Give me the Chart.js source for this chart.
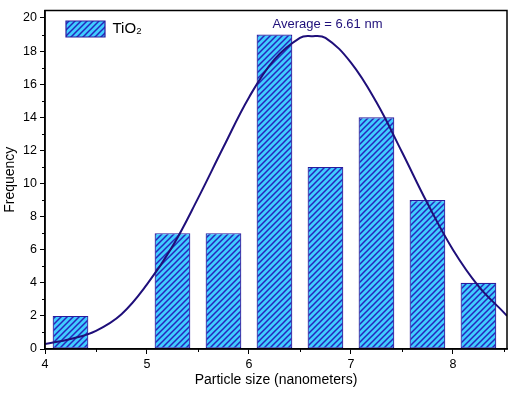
<!DOCTYPE html>
<html>
<head>
<meta charset="utf-8">
<script src="https://cdn.jsdelivr.net/npm/chart.js@4.4.1/dist/chart.umd.min.js"></script>
<style>
  html, body { margin: 0; padding: 0; background: #fff; }
</style>
</head>
<body>
<canvas id="myChart" width="510" height="393"></canvas>
<script>
/* histogram data */
const sizes = [4.25, 5.25, 5.75, 6.25, 6.75, 7.25, 7.75, 8.25];
const counts = [2, 7, 7, 19, 11, 14, 9, 4];

// fitted curve, points
const fitX = [4.0, 4.25, 4.5, 4.75, 5.0, 5.25, 5.5, 5.75, 6.0, 6.25, 6.5, 6.61, 6.75, 7.0, 7.25, 7.5, 7.75, 8.0, 8.25, 8.5, 8.53];
const fitY = [0.3, 0.6, 1.1, 2.1, 3.9, 6.2, 9.1, 12.2, 15.2, 17.5, 18.8, 18.9, 18.8, 17.3, 14.9, 11.9, 8.8, 6.0, 3.8, 2.2, 2.0];

const xLabels = [4, 5, 6, 7, 8];
const yLabels = [0, 2, 4, 6, 8, 10, 12, 14, 16, 18, 20];
const seriesName = "TiO\u2082";
const avgText = "Average = 6.61 nm";

const navy = "#1f0f7a";
const edge = "#2a1c9c";

const canvas = document.querySelector("#myChart");
const ctx = canvas.getContext("2d");

// cyan fill with dark "/" stripes
const makeHatch = () => {
  const c = document.createElement("canvas");
  c.width = 6;
  c.height = 6;
  const g = c.getContext("2d");
  g.fillStyle = "#40ccff";
  g.fillRect(0, 0, 6, 6);
  g.strokeStyle = "#2626bc";
  g.lineWidth = 1.5;
  g.beginPath();
  g.moveTo(-1, 7); g.lineTo(7, -1);
  g.moveTo(-1, 1); g.lineTo(1, -1);
  g.moveTo(5, 7); g.lineTo(7, 5);
  g.stroke();
  return ctx.createPattern(c, "repeat");
};

const isMajorX = (v) => xLabels.includes(v);
const isMajorY = (v) => yLabels.includes(v);

// short minor ticks + box frame + average label
const extras = {
  id: "extras",
  afterDraw(chart) {
    const { ctx, chartArea: a, scales } = chart;
    ctx.save();
    ctx.strokeStyle = "#000";
    ctx.lineWidth = 1;
    ctx.beginPath();
    scales.x.ticks.forEach((t) => {
      if (isMajorX(t.value)) return;
      const px = Math.round(scales.x.getPixelForValue(t.value)) + 0.5;
      ctx.moveTo(px, a.bottom);
      ctx.lineTo(px, a.bottom + 3);
    });
    scales.y.ticks.forEach((t) => {
      if (isMajorY(t.value)) return;
      const py = Math.round(scales.y.getPixelForValue(t.value)) + 0.5;
      ctx.moveTo(a.left, py);
      ctx.lineTo(a.left - 3, py);
    });
    ctx.stroke();

    ctx.lineWidth = 1.5;
    ctx.strokeRect(a.left, a.top, a.right - a.left, a.bottom - a.top);

    ctx.fillStyle = navy;
    ctx.font = "13px 'Liberation Sans', Arial, sans-serif";
    ctx.textAlign = "center";
    ctx.textBaseline = "middle";
    ctx.fillText(avgText, scales.x.getPixelForValue(6.77), scales.y.getPixelForValue(19.62));
    ctx.restore();
  },
};

Chart.defaults.font.family = "'Liberation Sans', Arial, sans-serif";
Chart.defaults.color = "#000";

const chart = new Chart(canvas, {
  data: {
    datasets: [
      {
        type: "line",
        label: "fit",
        data: fitX.map((x, i) => ({ x: x, y: fitY[i] })),
        borderColor: navy,
        borderWidth: 2,
        pointRadius: 0,
        tension: 0.4,
        order: 0,
      },
      {
        type: "bar",
        label: seriesName,
        data: sizes.map((x, i) => ({ x: x, y: counts[i] })),
        backgroundColor: makeHatch(),
        borderColor: edge,
        borderWidth: 1.2,
        borderSkipped: false,
        barPercentage: 0.7,
        categoryPercentage: 1,
        order: 1,
      },
    ],
  },
  options: {
    responsive: false,
    animation: false,
    layout: { padding: { top: 3, right: 3, left: 0, bottom: 0 } },
    plugins: {
      tooltip: { enabled: false },
      legend: {
        position: "chartArea",
        align: "start",
        labels: {
          filter: (item) => item.datasetIndex === 1,
          boxWidth: 39,
          boxHeight: 16,
          padding: 21,
          font: { size: 15 },
          color: "#000",
        },
      },
    },
    scales: {
      x: {
        type: "linear",
        min: 4,
        max: 8.53,
        offset: false,
        afterFit: (s) => { s.height = 44; },
        ticks: {
          stepSize: 0.5,
          includeBounds: false,
          autoSkip: false,
          maxRotation: 0,
          padding: 3,
          font: { size: 12.5 },
          callback: (v) => (isMajorX(v) ? v : ""),
        },
        grid: {
          offset: false,
          drawOnChartArea: false,
          tickLength: 5,
          tickColor: (c) => (c.tick && isMajorX(c.tick.value) ? "#000" : "rgba(0,0,0,0)"),
        },
        border: { color: "#000", width: 1.5 },
        title: {
          display: true,
          text: "Particle size (nanometers)",
          font: { size: 14 },
          padding: { top: 4, bottom: 4 },
        },
      },
      y: {
        min: 0,
        max: 20.45,
        afterFit: (s) => { s.width = 45; },
        ticks: {
          stepSize: 1,
          includeBounds: false,
          autoSkip: false,
          padding: 3,
          font: { size: 12.5 },
          callback: (v) => (isMajorY(v) ? v : ""),
        },
        grid: {
          drawOnChartArea: false,
          tickLength: 5,
          tickColor: (c) => (c.tick && isMajorY(c.tick.value) ? "#000" : "rgba(0,0,0,0)"),
        },
        border: { color: "#000", width: 1.5 },
        title: {
          display: true,
          text: "Frequency",
          font: { size: 14 },
          padding: { top: 2, bottom: 2 },
        },
      },
    },
  },
  plugins: [extras],
});
</script>
</body>
</html>
